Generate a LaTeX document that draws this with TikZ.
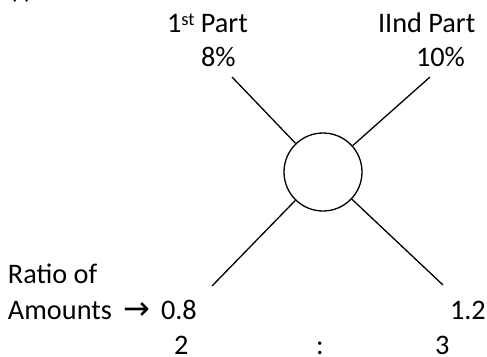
\documentclass[tikz,border=0pt]{standalone}
\usepackage{fontspec}
\setmainfont{Carlito}
\newfontfamily\arrowfont{DejaVu Sans}
\begin{document}
\begin{tikzpicture}[x=1pt,y=-1pt,
  lbl/.style={anchor=base west,inner sep=0pt,outer sep=0pt,font=\fontsize{28.3}{34}\selectfont},
  conn/.style={line width=1.3pt,draw=black},
  hub/.style={circle,draw=black,line width=1.3pt,minimum size=78pt,inner sep=0pt}]
\useasboundingbox (0,0) rectangle (487,356);
\begin{scope}
\clip (0,0) rectangle (487,356);
\node[lbl] (frag) at (9,-1.5) {(i)};
\end{scope}
% top labels
\node[lbl] (p1) at (167,32) {1\raisebox{7pt}{\fontsize{18.4}{18}\selectfont st} Part};
\node[lbl] (r1) at (201,66) {8\%};
\node[lbl] (p2) at (378,32) {IInd Part};
\node[lbl] (r2) at (416,66) {10\%};
% bottom labels
\node[lbl] (ro) at (8,283) {Ratio of};
\node[lbl] (am) at (8,319) {Amounts};
\node[lbl] (ar) at (123,319) {\arrowfont\fontsize{32}{34}\selectfont →};
\node[lbl] (a1) at (161,319) {0.8};
\node[lbl] (a2) at (450,319) {1.2};
\node[lbl] (s1) at (174,354.5) {2};
\node[lbl] (col) at (316,354.5) {:};
\node[lbl] (s2) at (435,354.5) {3};
% hub and connectors
\node[hub] (c) at (323,172) {};
\coordinate (tl) at (232,77);
\coordinate (tr) at (430,77);
\coordinate (bl) at (212,286);
\coordinate (br) at (443,285);
\draw[conn] (tl) -- (c);
\draw[conn] (tr) -- (c);
\draw[conn] (bl) -- (c);
\draw[conn] (br) -- (c);
\end{tikzpicture}
\end{document}
